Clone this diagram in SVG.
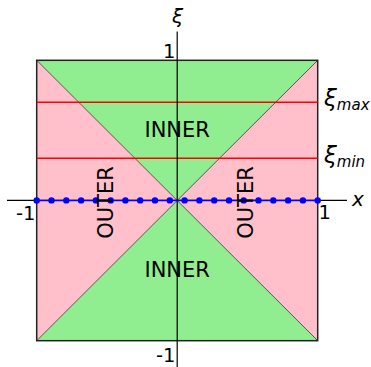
<svg xmlns="http://www.w3.org/2000/svg" width="371" height="367" viewBox="0 0 371 367">
<style>
text{font-family:"DejaVu Sans",sans-serif;fill:#000}
.lbl{font-size:21px}
.num{font-size:19.5px}
.it{font-style:italic}
.edge{stroke:#333;stroke-width:0.8;fill:none}
.red{stroke:#ff0000;stroke-width:1.5}
.dot{fill:#0000ff}
</style>
<g id="regions">
<polygon id="inner-top" points="36.7,60.3 317.7,60.3 177.2,200.5" fill="#90ee90"/>
<polygon id="inner-bottom" points="36.7,340.7 317.7,340.7 177.2,200.5" fill="#90ee90"/>
<polygon id="outer-left" points="36.7,60.3 36.7,340.7 177.2,200.5" fill="#ffc0cb"/>
<polygon id="outer-right" points="317.7,60.3 317.7,340.7 177.2,200.5" fill="#ffc0cb"/>
<line class="edge" x1="36.7" y1="60.3" x2="317.7" y2="340.7"/>
<line class="edge" x1="317.7" y1="60.3" x2="36.7" y2="340.7"/>
<rect x="36.7" y="60.3" width="281" height="280.4" fill="none" stroke="#222" stroke-width="1.5"/>
</g>
<g id="lines">
<line class="red" x1="36.7" y1="102.3" x2="317.7" y2="102.3"/>
<line class="red" x1="36.7" y1="158.3" x2="317.7" y2="158.3"/>
<line x1="7" y1="200.4" x2="347" y2="200.4" stroke="#000" stroke-width="1.2"/>
<line x1="177.2" y1="31.5" x2="177.2" y2="367" stroke="#000" stroke-width="1.2"/>
<line x1="36.7" y1="200.4" x2="317.7" y2="200.4" stroke="#0000ff" stroke-width="1.5"/>
</g>
<g id="dots">
<circle class="dot" cx="36.7" cy="200.4" r="3.2"/>
<circle class="dot" cx="51.5" cy="200.4" r="3.2"/>
<circle class="dot" cx="66.3" cy="200.4" r="3.2"/>
<circle class="dot" cx="81.1" cy="200.4" r="3.2"/>
<circle class="dot" cx="95.9" cy="200.4" r="3.2"/>
<circle class="dot" cx="110.7" cy="200.4" r="3.2"/>
<circle class="dot" cx="125.4" cy="200.4" r="3.2"/>
<circle class="dot" cx="140.2" cy="200.4" r="3.2"/>
<circle class="dot" cx="155.0" cy="200.4" r="3.2"/>
<circle class="dot" cx="169.8" cy="200.4" r="3.2"/>
<circle class="dot" cx="184.6" cy="200.4" r="3.2"/>
<circle class="dot" cx="199.4" cy="200.4" r="3.2"/>
<circle class="dot" cx="214.2" cy="200.4" r="3.2"/>
<circle class="dot" cx="229.0" cy="200.4" r="3.2"/>
<circle class="dot" cx="243.7" cy="200.4" r="3.2"/>
<circle class="dot" cx="258.5" cy="200.4" r="3.2"/>
<circle class="dot" cx="273.3" cy="200.4" r="3.2"/>
<circle class="dot" cx="288.1" cy="200.4" r="3.2"/>
<circle class="dot" cx="302.9" cy="200.4" r="3.2"/>
<circle class="dot" cx="317.7" cy="200.4" r="3.2"/>
</g>
<g id="labels">
<text class="lbl" x="177.2" y="136.7" text-anchor="middle">INNER</text>
<text class="lbl" x="177.2" y="276.7" text-anchor="middle">INNER</text>
<text class="lbl" transform="translate(113.3,202.5) rotate(-90)" text-anchor="middle">OUTER</text>
<text class="lbl" transform="translate(253.3,202.5) rotate(-90)" text-anchor="middle">OUTER</text>
<text class="it" x="177.5" y="23" font-size="20" text-anchor="middle">ξ</text>
<text class="num" x="175.5" y="58" text-anchor="end">1</text>
<text class="num" x="175.5" y="362" text-anchor="end">-1</text>
<text class="num" x="35.5" y="220" text-anchor="end">-1</text>
<text class="num" x="318.5" y="219">1</text>
<text class="it" x="352" y="205.5" font-size="20">x</text>
<text x="324" y="105.5"><tspan class="it" font-size="23">ξ</tspan><tspan class="it" font-size="15" dy="4.5">max</tspan></text>
<text x="324" y="162.5"><tspan class="it" font-size="23">ξ</tspan><tspan class="it" font-size="15" dy="4.2">min</tspan></text>
</g>
</svg>
